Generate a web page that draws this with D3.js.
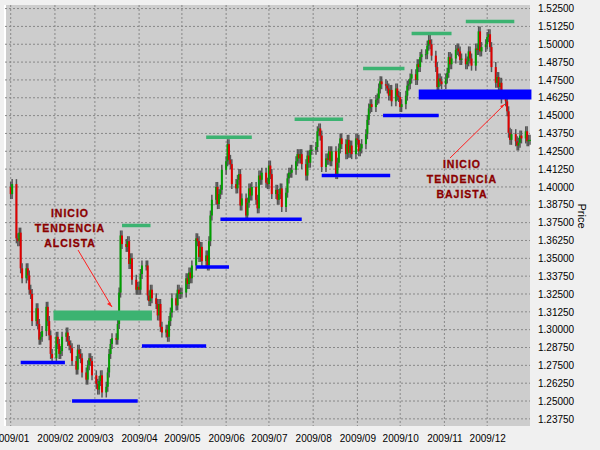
<!DOCTYPE html><html><head><meta charset="utf-8">
<script src="https://cdn.jsdelivr.net/npm/d3@7"></script>
<style>body{margin:0;background:#f0f0f0}svg{font-family:"Liberation Sans",Arial,sans-serif}</style></head><body>
<svg id="c" width="600" height="450"></svg>
<script>
const closesByMonth = [
[1.3950,1.4020,1.3640,1.3620,1.3680,1.3430,1.3360,1.3430,1.3380,1.3280,1.3250,1.3060,1.3150,1.3040,1.2930,1.2950,1.2990,1.3160,1.3060,1.2960,1.2830,1.2800],
[1.2950,1.2900,1.2830,1.2850,1.2950,1.2980,1.2920,1.2890,1.2870,1.2780,1.2720,1.2860,1.2830,1.2800,1.2700,1.2650,1.2750,1.2800,1.2780,1.2680],
[1.2620,1.2580,1.2640,1.2680,1.2560,1.2600,1.2700,1.2830,1.2900,1.2940,1.2930,1.3040,1.3260,1.3660,1.3600,1.3580,1.3620,1.3460,1.3500,1.3350,1.3280,1.3300],
[1.3280,1.3390,1.3450,1.3450,1.3240,1.3200,1.3280,1.3220,1.3180,1.3100,1.3180,1.3020,1.2980,1.3000,1.2950,1.3060,1.3120,1.3220,1.3170,1.3280,1.3250,1.3260],
[1.3260,1.3360,1.3320,1.3400,1.3360,1.3450,1.3640,1.3620,1.3510,1.3580,1.3480,1.3520,1.3450,1.3620,1.3800,1.3910,1.4000,1.3880,1.3950,1.3980,1.4120],
[1.4180,1.4300,1.4190,1.4160,1.4020,1.3990,1.4050,1.4090,1.3870,1.3920,1.3800,1.3890,1.3990,1.3940,1.4000,1.3910,1.3850,1.4080,1.4050,1.4100,1.4030,1.4020],
[1.4150,1.4090,1.3950,1.3980,1.3910,1.3950,1.3990,1.3860,1.3960,1.4060,1.4100,1.4100,1.4120,1.4180,1.4230,1.4200,1.4230,1.4160,1.4080,1.4220,1.4170,1.4260,1.4260],
[1.4280,1.4390,1.4410,1.4360,1.4140,1.4200,1.4190,1.4250,1.4180,1.4250,1.4090,1.4170,1.4270,1.4340,1.4300,1.4230,1.4330,1.4240,1.4290,1.4230,1.4340],
[1.4330,1.4250,1.4270,1.4300,1.4370,1.4470,1.4550,1.4580,1.4560,1.4610,1.4620,1.4690,1.4740,1.4720,1.4710,1.4690,1.4640,1.4680,1.4600,1.4690,1.4640,1.4630],
[1.4560,1.4580,1.4640,1.4710,1.4720,1.4760,1.4790,1.4750,1.4860,1.4840,1.4910,1.4930,1.4930,1.4990,1.5030,1.5000,1.4920,1.4840,1.4700,1.4760,1.4740,1.4720],
[1.4760,1.4800,1.4910,1.4860,1.4900,1.4960,1.4970,1.4950,1.4890,1.4900,1.4860,1.4880,1.4950,1.4900,1.4850,1.4970,1.4960,1.5090,1.4950,1.4980,1.5000],
[1.5050,1.5070,1.4980,1.4840,1.4730,1.4770,1.4700,1.4730,1.4620,1.4600,1.4530,1.4380,1.4330,1.4370,1.4320,1.4290,1.4310,1.4360,1.4340,1.4390,1.4320,1.4330,1.4330]
];
const firstOpen = 1.4000;
const priceTicks = [1.2375,1.25,1.2625,1.275,1.2875,1.30,1.3125,1.325,1.3375,1.35,1.3625,1.375,1.3875,1.40,1.4125,1.425,1.4375,1.45,1.4625,1.475,1.4875,1.50,1.5125,1.525];
const monthLabels = ["2009/01","2009/02","2009/03","2009/04","2009/05","2009/06","2009/07","2009/08","2009/09","2009/10","2009/11","2009/12"];
const greenLevels = [["2009-03-20","2009-04-09",1.3730],["2009-05-18","2009-06-19",1.4348],["2009-07-19","2009-08-22",1.4474],["2009-09-05","2009-10-04",1.4830],["2009-10-09","2009-11-06",1.5075],["2009-11-16","2009-12-20",1.5160]];
const greenBand = [["2009-01-31","2009-04-10",1.3100]];
const blueLevels = [["2009-01-08","2009-02-08",1.2770],["2009-02-13","2009-03-31",1.2501],["2009-04-03","2009-05-18",1.2886],["2009-05-11","2009-06-03",1.3440],["2009-05-28","2009-07-24",1.3774],["2009-08-07","2009-09-24",1.4080],["2009-09-19","2009-10-28",1.4500]];
const blueBand = [["2009-10-14","2010-01-01",1.4648]];
const noteUp = ["INICIO","TENDENCIA","ALCISTA"];
const noteDown = ["INICIO","TENDENCIA","BAJISTA"];

const parse = d3.timeParse("%Y-%m-%d");
const candles = [];
let prev = firstOpen;
closesByMonth.forEach((arr,m)=>{
  const days = d3.timeDay.range(new Date(2009,m,1), new Date(2009,m+1,1)).filter(d=>d.getDay()>0&&d.getDay()<6);
  arr.forEach((c,i)=>{ if(i<days.length){ candles.push({d:days[i],o:prev,c:c}); prev=c; } });
});
const wick = 0.0035;
const L=5,R=530,T=5,B=426;
const x = d3.scaleTime().domain([new Date(2008,11,28), new Date(2009,11,31)]).range([L,R]);
const y = d3.scaleLinear().domain([1.2325,1.5275]).range([B,T]);
const svg = d3.select("#c");
svg.append("rect").attr("x",L).attr("y",T).attr("width",R-L).attr("height",B-T).attr("fill","#cdcdcd");
svg.append("line").attr("x1",L).attr("x2",L).attr("y1",T).attr("y2",B).attr("stroke","#fff").attr("stroke-width",2);
const g = svg.append("g");
priceTicks.forEach(p=>g.append("line").attr("x1",L).attr("x2",R).attr("y1",y(p)).attr("y2",y(p)).attr("stroke","#888").attr("stroke-dasharray","2,2"));
const months = d3.range(12).map(m=>new Date(2009,m,1));
months.forEach(d=>g.append("line").attr("x1",x(d)).attr("x2",x(d)).attr("y1",T).attr("y2",B).attr("stroke","#888").attr("stroke-dasharray","2,2"));
const ax = svg.append("g").attr("transform",`translate(${R+3},0)`).call(d3.axisRight(y).tickValues(priceTicks).tickFormat(d3.format(".5f")).tickSize(0).tickPadding(5));
ax.select(".domain").remove(); ax.selectAll("text").attr("font-size",10).attr("fill","#000");
const bx = svg.append("g").attr("transform",`translate(0,${B+4})`).call(d3.axisBottom(x).tickValues(months).tickFormat((d,i)=>monthLabels[i]).tickSize(0).tickPadding(5));
bx.select(".domain").remove(); bx.selectAll("text").attr("font-size",10).attr("fill","#000");
svg.append("text").attr("transform","translate(578,216) rotate(90)").attr("text-anchor","middle").attr("font-size",11).text("Price");
const cg = svg.append("g");
candles.forEach(k=>{
  const cx = x(k.d), hi=Math.max(k.o,k.c)+wick, lo=Math.min(k.o,k.c)-wick;
  cg.append("line").attr("x1",cx).attr("x2",cx).attr("y1",y(hi)).attr("y2",y(lo)).attr("stroke","#555").attr("stroke-width",1.5);
  cg.append("rect").attr("x",cx-1).attr("width",2).attr("y",y(Math.max(k.o,k.c))).attr("height",Math.max(1,Math.abs(y(k.o)-y(k.c)))).attr("fill",k.c>=k.o?"#00a000":"#e00000");
});
function lev(arr,color,w){arr.forEach(a=>svg.append("line").attr("x1",x(parse(a[0]))).attr("x2",x(parse(a[1]))).attr("y1",y(a[2])).attr("y2",y(a[2])).attr("stroke",color).attr("stroke-width",w));}
lev(greenLevels,"#3cb371",3.5); lev(greenBand,"#3cb371",10); lev(blueLevels,"#0000ff",3.5); lev(blueBand,"#0000ff",10);
function note(lines,cx,y0){lines.forEach((t,i)=>svg.append("text").attr("x",cx).attr("y",y0+i*15).attr("text-anchor","middle").attr("font-size",10.5).attr("font-weight","900").attr("letter-spacing",1).attr("stroke","#8b0000").attr("stroke-width",0.3).attr("fill","#8b0000").text(t));}
note(noteUp,70,217); note(noteDown,462,168);
svg.append("line").attr("x1",78).attr("y1",250).attr("x2",112).attr("y2",307).attr("stroke","#ff2020").attr("stroke-width",1);
svg.append("path").attr("d","M112,307 l-5,-3 l3,-2 z").attr("fill","#ff2020");
svg.append("line").attr("x1",450).attr("y1",158).attr("x2",505).attr("y2",104).attr("stroke","#ff2020").attr("stroke-width",1);
svg.append("path").attr("d","M505,104 l-5,2 l2,2 z").attr("fill","#ff2020");
</script></body></html>
